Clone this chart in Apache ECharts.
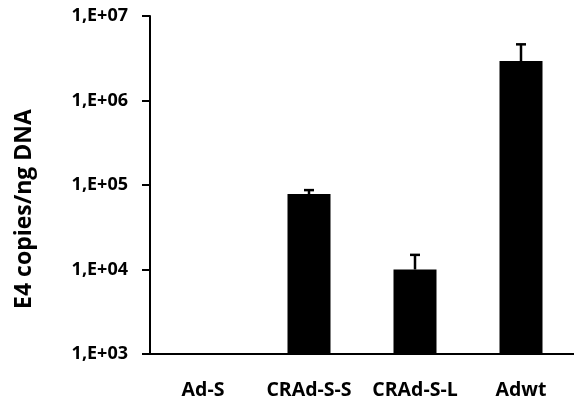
<!DOCTYPE html>
<html><head><meta charset="utf-8">
<script src="https://cdn.jsdelivr.net/npm/echarts@6/dist/echarts.min.js"></script>
<style>html,body{margin:0;padding:0;background:#fff}#c{width:574px;height:403px}</style>
</head><body><div id="c"></div>
<script>
var categories = ['Ad-S', 'CRAd-S-S', 'CRAd-S-L', 'Adwt'];
var values = [null, 78000, 10000, 2930000];
var errorTops = [null, 87000, 14900, 4620000];
var tickLabels = {3: '1,E+03', 4: '1,E+04', 5: '1,E+05', 6: '1,E+06', 7: '1,E+07'};
var yTitle = 'E4 copies/ng DNA';

var FONT = 'Open Sans';
var chart = echarts.init(document.getElementById('c'));
chart.setOption({
  animation: false,
  grid: {left: 150, top: 16, width: 430, height: 338},
  xAxis: {
    type: 'category', data: categories,
    axisLine: {lineStyle: {color: '#000', width: 2}},
    axisTick: {show: false},
    axisLabel: {interval: 0, hideOverlap: false, color: '#000', fontFamily: FONT, fontWeight: 'bold', fontSize: 19.5, margin: 26}
  },
  yAxis: {
    type: 'log', logBase: 10, min: 1000, max: 10000000,
    name: yTitle, nameLocation: 'middle', nameGap: 114,
    nameTextStyle: {color: '#000', fontFamily: FONT, fontWeight: 'bold', fontSize: 23, padding: [0, 48, 0, 0]},
    axisLine: {show: true, lineStyle: {color: '#000', width: 2}},
    axisTick: {show: true, length: 8, lineStyle: {color: '#000', width: 2}},
    splitLine: {show: false},
    axisLabel: {
      color: '#000', fontFamily: FONT, fontWeight: 'bold', fontSize: 18, margin: 22,
      formatter: function (v) { var e = Math.round(Math.log10(v)); return tickLabels[e] || ''; }
    }
  },
  series: [
    {type: 'bar', data: values, barWidth: 43, itemStyle: {color: '#000'}},
    {
      type: 'custom', z: 1,
      data: values.map(function (v, i) { return [i, v, errorTops[i]]; }),
      renderItem: function (params, api) {
        var v = api.value(1), t = api.value(2);
        if (v == null || t == null || isNaN(v) || isNaN(t)) return null;
        var p0 = api.coord([api.value(0), v]);
        var p1 = api.coord([api.value(0), t]);
        var style = {stroke: '#000', lineWidth: 2.5};
        return {type: 'group', children: [
          {type: 'line', shape: {x1: p0[0], y1: p0[1], x2: p1[0], y2: p1[1]}, style: style},
          {type: 'line', shape: {x1: p1[0] - 5, y1: p1[1], x2: p1[0] + 5, y2: p1[1]}, style: style}
        ]};
      }
    }
  ]
});
</script></body></html>
